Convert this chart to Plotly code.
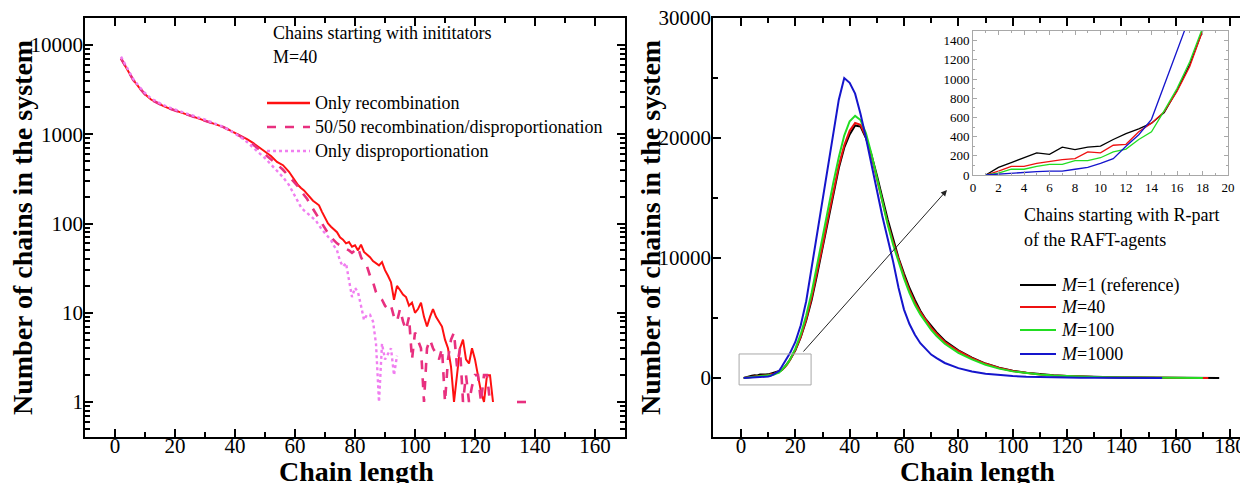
import plotly.graph_objects as go

# ---------------- Left chart: chains starting with initiators (M=40) ----------------
LEFT_X_A = list(range(2, 60, 2)) + list(range(60, 127))
RECOMB = [7000, 5300, 4100, 3350, 2800, 2450, 2250, 2080, 1950, 1850, 1760, 1660, 1580, 1500,
          1430, 1360, 1290, 1210, 1120, 1040, 960, 880, 800, 710, 630, 570, 490, 450, 380,
          300, 270, 250, 235, 215, 195, 180, 170, 160, 135, 115, 100, 92, 86, 80, 70, 66, 60,
          62, 55, 57, 50, 58, 48, 45, 42, 38, 36, 34, 37, 30, 26, 22, 14, 20, 18, 16, 15, 12,
          13, 10, 11, 13, 9, 7, 9, 11, 9, 8, 7, 5, 4, 2.5, 1, 2, 4, 5, 3, 2.7, 4, 3, 1.9, 1.3,
          1, 2, 2, 1]

LEFT_X_B = list(range(2, 60, 2)) + list(range(60, 126)) + [None, 134, 139]
HALF = [7100, 5350, 4100, 3350, 2800, 2450, 2250, 2080, 1950, 1850, 1760, 1670, 1590, 1510,
        1440, 1370, 1290, 1210, 1120, 1030, 950, 860, 770, 680, 600, 530, 460, 400, 340,
        290, 260, 230, 210, 190, 165, 145, 130, 115, 100, 88, 78, 70, 64, 60, 57, 55, 52, 50,
        47, 50, 54, 42, 36, 33, 26, 22, 17, 15, 14, 12, 11, 12, 9, 8, 11, 8, 6.4, 9, 3, 6, 5,
        4, 1, 4, 5, 4, 3.5, 3, 4, 1, 3, 5, 6, 2.5, 4, 1, 2, 1, 1.5, 2, 2, 1, 2, 2, 1,
        None, 1, 1]

LEFT_X_C = list(range(2, 60, 2)) + list(range(60, 95))
DISPROP = [7400, 5500, 4200, 3450, 2900, 2520, 2300, 2130, 2000, 1890, 1790, 1690, 1610, 1530,
           1460, 1380, 1300, 1210, 1120, 1020, 920, 820, 720, 620, 540, 460, 390, 330, 270,
           200, 175, 152, 140, 130, 122, 115, 107, 95, 85, 78, 72, 65, 56, 50, 38, 33, 36, 22,
           15, 19, 17, 12, 8.3, 9.5, 9.5, 8, 4.5, 1, 4.5, 3, 3.5, 4, 2, 3.3]

LEFT_NAMES = ["Only recombination", "50/50 recombination/disproportionation", "Only disproportionation"]
LEFT_COLORS = ["#ff1010", "#e8307f", "#f07ef0"]
LEFT_DASH = ["solid", "dash", "dot"]

# ---------------- Right chart: chains starting with R-part of RAFT agents ----------------
RIGHT_X = list(range(1, 19)) + list(range(20, 73, 2)) + list(range(75, 171, 5)) + [172, 174, 176]
M1 = ([0, 80, 130, 180, 230, 215, 290, 265, 290, 300, 370, 430, 480, 540, 650, 880, 1150, 1500] +
      [2300, 3400, 4800, 6500, 8600, 10800, 13100, 15400, 17500, 19200, 20300, 21050, 20950,
       20000, 18600, 16900, 15000, 13200, 11600, 10000, 8700, 7500, 6500, 5600, 4900, 4300, 3800] +
      [3100, 2300, 1700, 1200, 850, 600, 430, 300, 220, 160, 115, 80, 60, 40, 30, 20, 15, 10, 6, 4] +
      [3, 2, 1])
M40 = ([0, 40, 90, 90, 120, 140, 160, 170, 240, 230, 310, 320, 450, 540, 660, 870, 1130, 1500] +
       [2350, 3450, 4900, 6700, 8800, 11000, 13300, 15600, 17700, 19400, 20600, 21250, 21100,
        20100, 18500, 16600, 14700, 12900, 11300, 9800, 8500, 7300, 6300, 5500, 4800, 4200, 3700] +
       [3000, 2250, 1650, 1180, 830, 580, 410, 290, 210, 150, 110, 78, 55, 38, 28, 19, 14, 9, 5, 3] +
       [1, None, None])
M100 = ([0, 20, 60, 60, 90, 110, 110, 150, 150, 180, 240, 270, 370, 450, 670, 900, 1180, 1530] +
        [2450, 3650, 5200, 7100, 9300, 11600, 14000, 16300, 18400, 20200, 21400, 21850, 21500,
         20400, 18700, 16700, 14700, 12800, 11100, 9600, 8300, 7100, 6100, 5300, 4600, 4000, 3500] +
        [2850, 2100, 1550, 1100, 780, 550, 390, 280, 200, 140, 100, 72, 50, 35, 25, 17, 12, 8, 5, 2] +
        [None, None, None])
M1000 = ([0, 10, 20, 25, 35, 40, 40, 60, 80, 120, 170, 300, 420, 580, 930, 1290, 1650, 2050] +
         [3000, 4400, 6400, 9200, 11800, 14500, 17400, 20400, 23200, 25000, 24600, 23700, 22000,
          20000, 17800, 15600, 13500, 11600, 9700, 7500, 5700, 4500, 3600, 2900, 2400, 1950, 1650] +
         [1250, 820, 540, 360, 240, 160, 110, 75, 50, 35, 25, 17, 12, 8, 5, 3, 1, None, None, None] +
         [None, None, None])
RIGHT_NAMES = ["<i>M</i>=1 (reference)", "<i>M</i>=40", "<i>M</i>=100", "<i>M</i>=1000"]
RIGHT_COLORS = ["#000000", "#ee1111", "#22dd22", "#1515cc"]

X_TICKS_L = [0, 20, 40, 60, 80, 100, 120, 140, 160]
Y_TICKS_L = [1, 10, 100, 1000, 10000]
Y_MINOR_L = [0.5, 0.6, 0.7, 0.8, 0.9] + [m * d for d in (1, 10, 100, 1000) for m in range(2, 10)] + [20000]
X_TICKS_R = [0, 20, 40, 60, 80, 100, 120, 140, 160, 180]
Y_TICKS_R = [0, 10000, 20000, 30000]
X_TICKS_IN = list(range(0, 21, 2))
Y_TICKS_IN = list(range(0, 1401, 200))

SERIF = "Liberation Serif, Times New Roman, serif"
# page body has an 8px margin: figure occupies picture pixels 8..1248 x 8..483
OFF = 8
W, H = 1248 - OFF, 483 - OFF


def px(x):
    return (x - OFF) / W


def py(y):
    return (483 - y) / H


fig = go.Figure()

left_sets = [(LEFT_X_A, RECOMB, 2.0), (LEFT_X_B, HALF, 2.6), (LEFT_X_C, DISPROP, 2.4)]
for (xs, ys, w), name, col, dash in zip(left_sets, LEFT_NAMES, LEFT_COLORS, LEFT_DASH):
    fig.add_trace(go.Scatter(x=xs, y=ys, mode="lines", name=name, xaxis="x", yaxis="y",
                             line=dict(color=col, width=w, dash=dash), showlegend=False))

for ys, name, col in zip([M1, M40, M100, M1000], RIGHT_NAMES, RIGHT_COLORS):
    fig.add_trace(go.Scatter(x=RIGHT_X, y=ys, mode="lines", name=name, xaxis="x2", yaxis="y2",
                             line=dict(color=col, width=2), showlegend=False))
for ys, col in zip([M1, M40, M100, M1000], RIGHT_COLORS):
    fig.add_trace(go.Scatter(x=RIGHT_X, y=ys, mode="lines", xaxis="x3", yaxis="y3",
                             line=dict(color=col, width=1.3), showlegend=False))

ydom = [py(437), py(18)]
axis_common = dict(showline=True, linecolor="black", linewidth=1.5, mirror="ticks",
                   ticks="inside", ticklen=8, tickwidth=1.5, tickcolor="black",
                   showgrid=False, zeroline=False, automargin=False, ticklabeloverflow="allow",
                   tickfont=dict(family=SERIF, size=21, color="black"))
inset_common = dict(showline=True, linecolor="#a8a8a8", linewidth=1, mirror="ticks",
                    ticks="inside", ticklen=4, tickcolor="#a8a8a8", showgrid=False, zeroline=False,
                    automargin=False, tickfont=dict(family=SERIF, size=13, color="black"))

fig.update_layout(
    width=W, height=H, margin=dict(l=0, r=0, t=0, b=0, pad=0), autosize=False,
    paper_bgcolor="white", plot_bgcolor="white", showlegend=False,
    font=dict(family=SERIF, color="black"),
    xaxis=dict(domain=[px(85), px(625)], range=[-10, 170], tickvals=X_TICKS_L, anchor="y",
               ticklabelstandoff=-11,
               minor=dict(dtick=10, tick0=0, ticks="inside", ticklen=5, tickcolor="black"),
               **axis_common),
    yaxis=dict(domain=ydom, type="log", range=[-0.392, 4.3025], tickvals=Y_TICKS_L,
               ticktext=[str(v) for v in Y_TICKS_L], anchor="x", ticklabelstandoff=-4,
               minor=dict(tickmode="array", tickvals=Y_MINOR_L, ticks="inside", ticklen=5,
                          tickcolor="black"),
               **axis_common),
    xaxis2=dict(domain=[px(713), 1.0], range=[-10.3, 186.6], tickvals=X_TICKS_R, anchor="y2",
                ticklabelstandoff=-11,
                minor=dict(dtick=10, tick0=0, ticks="inside", ticklen=5, tickcolor="black"),
                **axis_common),
    yaxis2=dict(domain=ydom, range=[-4920, 30005], tickvals=Y_TICKS_R,
                ticktext=[str(v) for v in Y_TICKS_R], anchor="x2", ticklabelstandoff=-4,
                minor=dict(dtick=5000, tick0=0, ticks="inside", ticklen=5, tickcolor="black"),
                **axis_common),
    xaxis3=dict(domain=[px(973), px(1228)], range=[0, 20], tickvals=X_TICKS_IN, anchor="y3",
                minor=dict(dtick=1, ticks="inside", ticklen=2, tickcolor="#a8a8a8"),
                **inset_common),
    yaxis3=dict(domain=[py(175), py(31)], range=[0, 1500], tickvals=Y_TICKS_IN, anchor="x3",
                minor=dict(dtick=100, ticks="inside", ticklen=2, tickcolor="#a8a8a8"),
                **inset_common),
)

# zoom rectangle and arrow on right chart
fig.add_shape(type="rect", xref="x2", yref="y2", x0=-0.7, x1=25.8, y0=-580, y1=2000,
              line=dict(color="#a8a8a8", width=1))
fig.add_annotation(xref="x2", yref="y2", axref="x2", ayref="y2", x=75.8, y=15660, ax=22.5, ay=2080,
                   showarrow=True, arrowhead=2, arrowsize=1.2, arrowwidth=1, arrowcolor="#222222", text="")

ann_font = dict(family=SERIF, size=18, color="black")
for text, x, y in [("Chains starting with inititators", 271, 33), ("M=40", 271, 57),
                   ("Chains starting with R-part", 1022, 215), ("of the RAFT-agents", 1022, 240)]:
    fig.add_annotation(xref="paper", yref="paper", x=px(x), y=py(y), xanchor="left", yanchor="middle",
                       text=text, showarrow=False, font=ann_font)

# legends (key samples + labels)
for name, col, dash, y in zip(LEFT_NAMES, LEFT_COLORS, LEFT_DASH, [103, 127, 151]):
    fig.add_shape(type="line", xref="paper", yref="paper", x0=px(267), x1=px(310), y0=py(y), y1=py(y),
                  line=dict(color=col, width=2.4, dash=dash))
    fig.add_annotation(xref="paper", yref="paper", x=px(313), y=py(y), xanchor="left", yanchor="middle",
                       text=name, showarrow=False, font=ann_font)
for name, col, y in zip(RIGHT_NAMES, RIGHT_COLORS, [285, 307, 330, 354]):
    fig.add_shape(type="line", xref="paper", yref="paper", x0=px(1020), x1=px(1056), y0=py(y), y1=py(y),
                  line=dict(color=col, width=2))
    fig.add_annotation(xref="paper", yref="paper", x=px(1059), y=py(y), xanchor="left", yanchor="middle",
                       text=name, showarrow=False, font=ann_font)

for x in (22, 650):
    fig.add_annotation(xref="paper", yref="paper", x=px(x), y=py(228), textangle=-90,
                       text="<b>Number of chains in the system</b>", showarrow=False,
                       font=dict(family=SERIF, size=28, color="black"),
                       xanchor="center", yanchor="middle")
for x in (356, 977):
    fig.add_annotation(xref="paper", yref="paper", x=px(x), y=py(471), text="<b>Chain length</b>",
                       showarrow=False, font=dict(family=SERIF, size=28, color="black"),
                       xanchor="center", yanchor="middle")

fig.write_html("out.html")
